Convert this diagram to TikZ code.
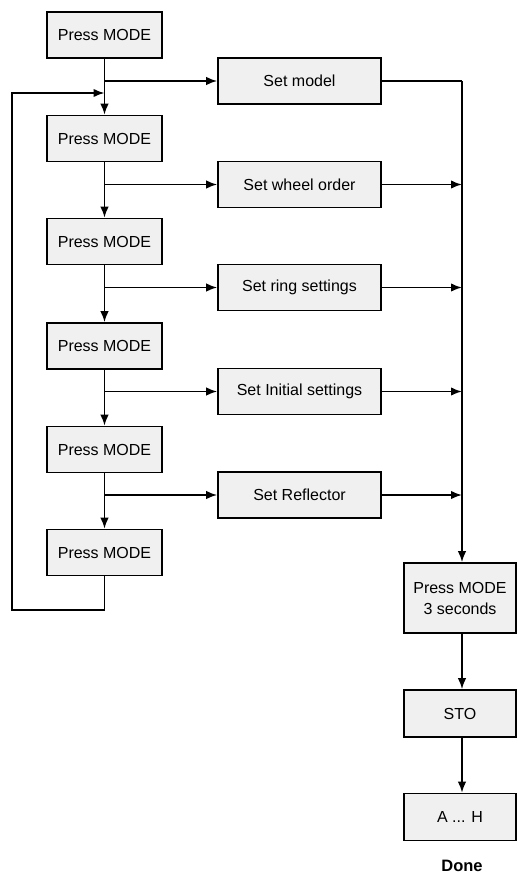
\documentclass[tikz,border=0pt]{standalone}
\usepackage{fontspec}
\setmainfont{Liberation Sans}
\usetikzlibrary{arrows.meta}
\begin{document}
\begin{tikzpicture}[x=1pt,y=-1pt,
  box/.style={draw=black, line width=1.6pt, fill=gray!12, minimum height=46pt, inner sep=0pt,
    font=\fontsize{16}{19}\selectfont, align=center},
  lbox/.style={box, minimum width=115pt},
  sbox/.style={box, minimum width=163pt},
  rbox/.style={box, minimum width=112pt},
  ln/.style={line width=1.8pt},
  arr/.style={ln, -{Latex[length=11pt,width=8.5pt]}}]
\useasboundingbox (0,0) rectangle (517,875);
% left column
\node[lbox] (m1) at (104.5,35) {Press MODE};
\node[lbox] (m2) at (104.5,138.5) {Press MODE};
\node[lbox] (m3) at (104.5,241.5) {Press MODE};
\node[lbox] (m4) at (104.5,346) {Press MODE};
\node[lbox] (m5) at (104.5,449.5) {Press MODE};
\node[lbox] (m6) at (104.5,552.5) {Press MODE};
% set boxes
\node[sbox] (s1) at (299.5,81) {Set model};
\node[sbox] (s2) at (299.5,184.5) {Set wheel order};
\node[sbox] (s3) at (299.5,287.5) {Set ring settings};
\node[sbox] (s4) at (299.5,391.5) {Set Initial settings};
\node[sbox] (s5) at (299.5,495) {Set Reflector};
% right column
\node[rbox, minimum height=70pt] (p3) at (460,598) {Press MODE\\[2pt]3 seconds};
\node[rbox, minimum height=47pt] (sto) at (460,713.5) {STO};
\node[rbox, minimum height=47pt] (ah) at (460,817) {A ... H};
\node[font=\fontsize{16.5}{19}\selectfont\bfseries] (done) at (462,866) {Done};
% coordinates
\coordinate (rt) at (462,81);
\coordinate (lp) at (12,93);
\coordinate (lb) at (12,610);
% vertical chain
\foreach \a/\b in {m1/m2,m2/m3,m3/m4,m4/m5,m5/m6}
  \draw[arr] (\a.south) -- (\b.north);
% branches
\foreach \a/\b in {m1/s1,m2/s2,m3/s3,m4/s4,m5/s5}
  \draw[arr] (\a.south |- \b.west) -- (\b.west);
% loop back
\draw[arr] (m6.south) -- (m6.south |- lb) -- (lb) -- (lp) -- (m1.south |- lp);
% right collector
\draw[ln] (s1.east) -- (rt);
\draw[arr] (rt) -- (rt |- p3.north);
\foreach \b in {s2,s3,s4,s5}
  \draw[arr] (\b.east) -- (rt |- \b.east);
\draw[arr] (rt |- p3.south) -- (rt |- sto.north);
\draw[arr] (rt |- sto.south) -- (rt |- ah.north);
\end{tikzpicture}
\end{document}
